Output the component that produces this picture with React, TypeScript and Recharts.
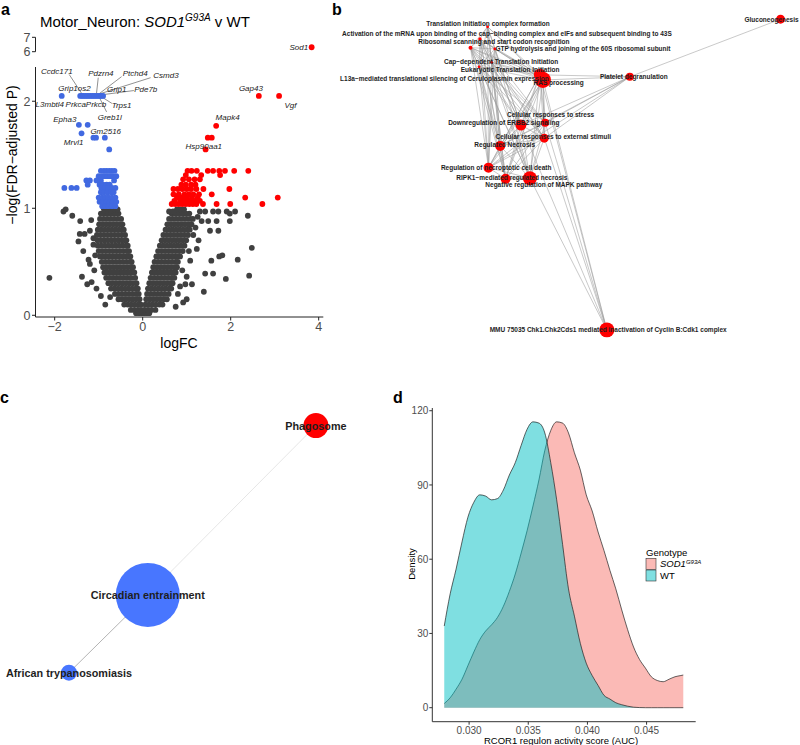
import React from "react";
import {
  Area,
  ComposedChart,
  ReferenceLine,
  Scatter,
  ScatterChart,
  XAxis,
  YAxis,
  ZAxis,
} from "recharts";

const FONT = "'Liberation Sans', Arial, Helvetica, sans-serif";

// ---------- a: volcano (logFC vs -log10 FDR) ----------
const volcanoXTicks = [-2, 0, 2, 4];
const volcanoYTicks = [0, 1, 2];
const volcanoBreakTicks = [6, 7];

// not significant genes: [-log p, logFC values on that row]
const nsRows: [number, number[]][] = [
  [0.02, [-0.15, -0.08, -0.02, 0.03, 0.09, 0.15]],
  [0.05, [-0.27, -0.19, -0.11, -0.04, 0.04, 0.12, 0.2, 0.29]],
  [0.1, [-0.42, -0.34, -0.26, -0.18, -0.1, -0.04, 0.06, 0.14, 0.22, 0.3, 0.38, 0.45]],
  [0.15, [-0.55, -0.47, -0.39, -0.31, -0.23, -0.15, -0.07, 0.08, 0.16, 0.24, 0.32, 0.4, 0.48, 0.55]],
  [0.2, [-0.63, -0.55, -0.47, -0.39, -0.31, -0.23, -0.15, -0.09, 0.1, 0.18, 0.26, 0.34, 0.42, 0.5, 0.59]],
  [0.25, [-0.72, -0.64, -0.56, -0.48, -0.4, -0.32, -0.24, -0.16, -0.11, 0.12, 0.2, 0.28, 0.36, 0.44, 0.52, 0.6, 0.65]],
  [0.3, [-0.78, -0.7, -0.62, -0.54, -0.46, -0.38, -0.3, -0.22, -0.14, 0.15, 0.23, 0.31, 0.39, 0.47, 0.55, 0.63, 0.68]],
  [0.35, [-0.83, -0.75, -0.67, -0.59, -0.51, -0.43, -0.35, -0.27, -0.17, 0.18, 0.26, 0.34, 0.42, 0.5, 0.58, 0.66, 0.72]],
  [0.4, [-0.87, -0.79, -0.71, -0.63, -0.55, -0.47, -0.39, -0.31, -0.23, -0.19, 0.21, 0.29, 0.37, 0.45, 0.53, 0.61, 0.69, 0.75]],
  [0.45, [-0.9, -0.82, -0.74, -0.66, -0.58, -0.5, -0.42, -0.34, -0.26, -0.22, 0.24, 0.32, 0.4, 0.48, 0.56, 0.64, 0.72, 0.78]],
  [0.5, [-0.93, -0.85, -0.77, -0.69, -0.61, -0.53, -0.45, -0.37, -0.29, -0.25, 0.27, 0.35, 0.43, 0.51, 0.59, 0.67, 0.75, 0.8]],
  [0.55, [-0.97, -0.89, -0.81, -0.73, -0.65, -0.57, -0.49, -0.41, -0.33, -0.28, 0.31, 0.39, 0.47, 0.55, 0.63, 0.71, 0.79, 0.85]],
  [0.6, [-1.0, -0.92, -0.84, -0.76, -0.68, -0.6, -0.52, -0.44, -0.36, -0.31, 0.35, 0.43, 0.51, 0.59, 0.67, 0.75, 0.83, 0.91]],
  [0.65, [-1.02, -0.94, -0.86, -0.78, -0.7, -0.62, -0.54, -0.46, -0.38, -0.34, 0.39, 0.47, 0.55, 0.63, 0.71, 0.79, 0.87, 0.95]],
  [0.7, [-1.03, -0.95, -0.87, -0.79, -0.71, -0.63, -0.55, -0.47, -0.4, -0.37, 0.43, 0.51, 0.59, 0.67, 0.75, 0.83, 0.91, 0.99]],
  [0.75, [-1.04, -0.96, -0.88, -0.8, -0.72, -0.64, -0.56, -0.48, -0.4, 0.47, 0.55, 0.63, 0.71, 0.79, 0.87, 0.95, 1.03]],
  [0.8, [-1.02, -0.94, -0.86, -0.78, -0.7, -0.62, -0.54, -0.46, -0.43, 0.52, 0.6, 0.68, 0.76, 0.84, 0.92, 1.0, 1.07]],
  [0.85, [-0.99, -0.91, -0.83, -0.75, -0.67, -0.59, -0.51, -0.46, 0.56, 0.64, 0.72, 0.8, 0.88, 0.96, 1.04, 1.11]],
  [0.9, [-0.97, -0.89, -0.81, -0.73, -0.65, -0.57, -0.49, 0.6, 0.68, 0.76, 0.84, 0.92, 1.0, 1.08, 1.14]],
  [0.95, [-0.95, -0.87, -0.79, -0.71, -0.63, -0.55, 0.66, 0.74, 0.82, 0.9, 0.98, 1.06]],
  [0.99, [-0.88, -0.8, -0.72, -0.64, -0.57, 0.78, 0.86, 0.94]],
];
const nsExtra: [number, number][] = [
  [-2.12, 0.35], [-1.8, 0.97], [-1.75, 0.99], [-1.6, 0.93], [-1.43, 0.76], [-1.46, 0.69],
  [-1.32, 0.76], [-1.2, 0.79], [-1.42, 0.88], [-1.17, 0.89], [-1.35, 0.6], [-1.23, 0.52],
  [-1.2, 0.48], [-1.26, 0.29], [-1.16, 0.31], [-1.38, 0.36], [-0.74, 0.17], [-1.12, 0.66],
  [-1.1, 0.42], [-1.08, 0.56], [-1.05, 0.25], [-0.95, 0.18], [-0.85, 0.1], [-1.12, 0.72],
  [0.6, 0.97], [0.69, 0.97], [1.3, 0.97], [1.42, 0.97], [1.6, 0.97], [1.72, 0.97],
  [1.91, 0.97], [1.98, 0.95], [2.1, 0.97], [2.39, 0.93], [1.34, 0.88], [1.49, 0.88],
  [1.68, 0.88], [1.98, 0.88], [1.53, 0.79], [1.72, 0.79], [1.27, 0.7], [1.23, 0.62],
  [1.74, 0.55], [1.81, 0.56], [2.16, 0.52], [2.48, 0.63], [1.08, 0.51], [1.56, 0.51],
  [1.42, 0.39], [1.6, 0.39], [1.89, 0.34], [2.42, 0.37], [0.97, 0.29], [1.12, 0.29],
  [1.39, 0.22], [0.92, 0.12], [1.2, 0.82], [1.0, 0.36], [0.9, 0.42], [1.05, 0.6],
  [0.8, 0.2], [0.85, 0.27], [1.15, 0.75], [1.25, 0.92], [1.0, 0.15], [0.75, 0.08],
];

// down-regulated (blue)
const downRows: [number, number[]][] = [
  [2.05, [-1.84, -1.42, -1.38, -1.34, -1.3, -1.26, -1.22, -1.18, -1.14, -1.1, -1.06, -1.02, -0.98, -0.94, -0.9]],
  [1.35, [-0.95, -0.88, -0.82, -0.76, -0.7, -0.64]],
  [1.3, [-1.0, -0.92, -0.86, -0.8, -0.74, -0.68, -0.6]],
  [1.26, [-1.28, -1.2, -1.05, -0.95, -0.65]],
  [1.22, [-1.25, -0.98, -0.9, -0.82, -0.75]],
  [1.19, [-1.78, -1.62, -1.5, -0.94, -0.86, -0.78, -0.7, -0.62]],
  [1.15, [-0.95, -0.88, -0.8, -0.72, -0.66]],
  [1.1, [-1.0, -0.92, -0.85, -0.78, -0.7, -0.62]],
  [1.06, [-0.98, -0.9, -0.82, -0.75, -0.68, -0.6]],
  [1.02, [-0.92, -0.85, -0.78, -0.7, -0.62]],
];
const downExtra: [number, number][] = [
  [-1.45, 1.78], [-1.25, 1.78], [-1.39, 1.7], [-1.12, 1.66], [-1.06, 1.66], [-0.86, 1.66], [-0.76, 1.55],
];

// up-regulated (red)
const upRows: [number, number[]][] = [
  [1.35, [1.02, 1.11, 1.23, 1.48, 1.6, 1.74, 1.87, 2.08, 2.4]],
  [1.31, [0.98, 1.33, 1.76]],
  [1.27, [0.92, 1.05, 1.18, 1.3]],
  [1.22, [0.88, 0.98, 1.1, 1.2]],
  [1.18, [0.7, 0.8, 0.9, 1.0, 1.1, 1.22, 1.38, 1.97]],
  [1.13, [0.7, 0.82, 0.95, 1.05, 1.15, 1.28, 1.57]],
  [1.1, [0.78, 0.88, 1.0, 1.12, 1.25, 2.33, 3.07]],
  [1.07, [0.72, 0.85, 0.96, 1.06, 1.18, 1.3]],
  [1.04, [0.66, 0.74, 0.82, 0.9, 0.98, 1.06, 1.14, 1.22, 1.37, 1.68, 1.99, 2.72]],
];
const upExtra: [number, number][] = [
  [2.64, 2.05], [3.1, 2.05], [1.67, 1.77], [1.48, 1.66], [1.57, 1.66], [1.43, 1.55],
];
const upBreak: [number, number][] = [[3.84, 6.31]];

// gene labels: [gene, label logFC, label -log p]
const geneLabels: [string, number, number][] = [
  ["Gap43", 2.46, 2.12], ["Vgf", 3.36, 1.96], ["Mapk4", 1.93, 1.85], ["Hsp90aa1", 1.39, 1.58],
  ["Ccdc171", -1.95, 2.28], ["Pdzrn4", -0.95, 2.26], ["Ptchd4", -0.17, 2.26], ["Csmd3", 0.53, 2.24],
  ["Grip1os2", -1.55, 2.12], ["Grip1", -0.59, 2.11], ["Pde7b", 0.07, 2.11], ["L3mbtl4", -2.11, 1.97],
  ["Prkca", -1.52, 1.97], ["Prkcb", -1.06, 1.97], ["Trps1", -0.48, 1.96], ["Greb1l", -0.75, 1.85],
  ["Epha3", -1.77, 1.83], ["Gm2516", -0.84, 1.72], ["Mrvl1", -1.57, 1.61],
];
const breakLabels: [string, number, number][] = [["Sod1", 3.55, 6.26]];
// label -> point segments
const labelLinks: [number, number, number, number][] = [
  [-1.67, 2.25, -1.35, 2.05], [-1.01, 2.22, -1.05, 2.07], [-0.48, 2.23, -0.99, 2.07],
  [0.18, 2.22, -0.97, 2.07], [-0.2, 2.1, -0.93, 2.06], [-0.7, 1.98, -0.93, 2.04],
  [-0.82, 1.9, -0.99, 2.04],
];

// ---------- b: Reactome network ----------
const reactomeNames = [
  "Translation initiation complex formation",
  "Activation of the mRNA upon binding of the cap−binding complex and eIFs and subsequent binding to 43S",
  "Ribosomal scanning and start codon recognition",
  "GTP hydrolysis and joining of the 60S ribosomal subunit",
  "Cap−dependent Translation Initiation",
  "Eukaryotic Translation Initiation",
  "L13a−mediated translational silencing of Ceruloplasmin expression",
  "RAS processing",
  "Platelet degranulation",
  "Gluconeogenesis",
  "Cellular responses to stress",
  "Downregulation of ERBB2 signaling",
  "Cellular responses to external stimuli",
  "Regulated Necrosis",
  "Regulation of necroptotic cell death",
  "RIPK1−mediated regulated necrosis",
  "Negative regulation of MAPK pathway",
  "MMU 75035 Chk1.Chk2Cds1 mediated inactivation of Cyclin B:Cdk1 complex",
];
const reactomeX = [32.8, 31.1, 29.0, 34.4, 33.7, 30.9, 44.4, 45.1, 64.4, 97.9, 45.6, 40.2, 45.4, 35.6, 33.0, 36.8, 42.2, 59.3];
const reactomeY = [96.3, 92.5, 89.8, 89.4, 85.2, 83.8, 81.3, 79.7, 80.7, 98.7, 66.3, 65.6, 61.5, 59.1, 52.3, 48.8, 49.0, 1.6];
const reactomeGenes = [2, 3, 4, 2, 2, 2, 36, 64, 16, 20, 16, 30, 20, 25, 25, 25, 49, 56];
const reactomeLabelX = [32.9, 37.1, 34.2, 54.0, 35.8, 37.8, 23.2, 48.6, 65.3, 95.9, 46.8, 36.4, 47.4, 36.6, 34.7, 38.2, 45.3, 59.6];
const reactomeLabelY = [97.2, 94.1, 91.8, 89.4, 85.4, 83.1, 80.3, 78.8, 80.7, 98.75, 69.0, 66.3, 62.0, 59.4, 52.5, 49.1, 46.9, 1.6];
const reactomeLinks: [number, number[]][] = [
  [0, [1, 2, 3, 4, 5, 6, 7, 11, 13, 14, 15]],
  [1, [2, 3, 4, 5, 6, 7, 10, 11, 12, 13, 14, 15, 16]],
  [2, [3, 4, 5, 6, 7, 10, 11, 12, 13, 14, 15, 16]],
  [3, [4, 5, 6, 7, 11, 13, 14, 16]],
  [4, [5, 6, 7, 10, 11, 12, 13, 14, 15, 16]],
  [5, [6, 7, 10, 11, 12, 13, 14, 15, 16]],
  [6, [7, 8, 10, 11, 12, 13, 14, 15, 16, 17]],
  [7, [8, 10, 11, 12, 13, 14, 15, 16, 17]],
  [8, [9, 10, 11, 12, 13, 14]],
  [10, [11, 12, 13, 14, 15, 16, 17]],
  [11, [12, 13, 14, 15, 16, 17]],
  [12, [13, 14, 15, 16, 17]],
  [13, [14, 15, 16]],
  [14, [15, 16]],
  [15, [16]],
  [16, [17]],
];

// ---------- c: KEGG network ----------
const keggNames = ["Phagosome", "Circadian entrainment", "African trypanosomiasis"];
const keggX = [82.2, 35.5, 13.6];
const keggY = [92.0, 39.1, 14.8];
const keggGenes = [156, 1024, 64];
const keggDirection = ["up", "down", "down"];
const keggLinks: [number, number, number][] = [
  [0, 1, 0.18],
  [1, 2, 0.55],
];

// ---------- d: RCOR1 regulon density ----------
const genotypes = ["SOD1", "WT"];
const aucGrid = [
  0.0279, 0.0284, 0.0289, 0.0294, 0.0299, 0.0304, 0.0309, 0.0314, 0.0319, 0.0324, 0.0329,
  0.0334, 0.0339, 0.0344, 0.0349, 0.0354, 0.0359, 0.0364, 0.0369, 0.0374, 0.0379, 0.0384,
  0.0389, 0.0394, 0.0399, 0.0404, 0.0409, 0.0414, 0.0419, 0.0424, 0.0429, 0.0434, 0.0439,
  0.0444, 0.0449, 0.0454, 0.0459, 0.0464, 0.0469, 0.0474, 0.0479, 0.0481,
];
const wtDensity = [
  33, 46, 56, 67, 77, 83, 86, 85.5, 84, 84.5, 88,
  94, 99, 106, 112.5, 115.5, 115, 111, 99, 84, 66, 48,
  37, 26, 18, 13, 9, 5, 3.5, 2, 1.2, 0.6, 0.2,
  0.05, 0, 0, 0, 0, 0, 0, 0, 0,
];
const sod1Density = [
  1.7, 4, 7.5, 11.5, 17, 22.5, 27.5, 31, 33.5, 36.5, 41,
  47, 54, 62.5, 71.5, 81.5, 92, 104, 112, 115.5, 115, 111,
  103, 96, 86, 79.5, 71, 63.5, 55.5, 48, 39.5, 31.5, 24.5,
  19.5, 16, 12.5, 11, 10.5, 11.5, 12.5, 13, 13.2,
];
const densityXTicks = [0.03, 0.035, 0.04, 0.045];
const densityYTicks = [0, 30, 60, 90, 120];

// ---------- helpers ----------
const rowsToPoints = (rows: [number, number[]][]) =>
  rows.flatMap(([y, xs]) => xs.map((x) => ({ x, y })));
const pairsToPoints = (pairs: [number, number][]) => pairs.map(([x, y]) => ({ x, y }));
const minus = (v: number) => String(v).replace("-", "−");

const nsPoints = [...rowsToPoints(nsRows), ...pairsToPoints(nsExtra)];
const downPoints = [...rowsToPoints(downRows), ...pairsToPoints(downExtra)];
const upPoints = [...rowsToPoints(upRows), ...pairsToPoints(upExtra)];
const breakPoints = pairsToPoints(upBreak);
const labelPoints = geneLabels.map(([gene, x, y]) => ({ gene, x, y }));
const breakLabelPoints = breakLabels.map(([gene, x, y]) => ({ gene, x, y }));

const reactomeNodes = reactomeNames.map((name, i) => ({
  name,
  x: reactomeX[i],
  y: reactomeY[i],
  genes: reactomeGenes[i],
}));
const reactomeLabels = reactomeNames.map((name, i) => ({
  name,
  x: reactomeLabelX[i],
  y: reactomeLabelY[i],
}));
const reactomeEdges = reactomeLinks.flatMap(([s, ts]) =>
  ts.map((t) => [
    { x: reactomeX[s], y: reactomeY[s] },
    { x: reactomeX[t], y: reactomeY[t] },
  ])
);

const keggNodes = keggNames.map((name, i) => ({
  name,
  x: keggX[i],
  y: keggY[i],
  genes: keggGenes[i],
  direction: keggDirection[i],
}));

const densityRows = aucGrid.map((auc, i) => ({
  auc,
  SOD1: sod1Density[i],
  WT: wtDensity[i],
}));

const genotypeFill: Record<string, string> = { SOD1: "#F8766D", WT: "#00BFC4" };

const dotShape = (fill: string) => (p: any) =>
  <circle cx={p.cx} cy={p.cy} r={2.9} fill={fill} />;

const geneText = (p: any) => (
  <text
    x={p.cx}
    y={p.cy}
    textAnchor="middle"
    dominantBaseline="central"
    fontSize={8}
    fontStyle="italic"
    fill="#222"
    fontFamily={FONT}
  >
    {p.payload.gene}
  </text>
);

const nodeText = (size: number) => (p: any) => (
  <text
    x={p.cx}
    y={p.cy}
    textAnchor="middle"
    dominantBaseline="central"
    fontSize={size}
    fontWeight="bold"
    fill="#1e1e1e"
    fontFamily={FONT}
  >
    {p.payload.name}
  </text>
);

const noShape = () => <g />;

const tickStyle = { fill: "#4d4d4d", fontSize: 12.5, fontFamily: FONT };

function VolcanoMain() {
  return (
    <ScatterChart width={340} height={360} margin={{ top: 67, right: 16.7, bottom: 0, left: 0 }}>
      <XAxis
        type="number"
        dataKey="x"
        domain={[-2.436, 4.105]}
        ticks={volcanoXTicks}
        interval={0}
        allowDataOverflow
        height={43}
        tickSize={3.5}
        tickMargin={1.5}
        stroke="#222"
        tick={tickStyle}
        tickFormatter={minus}
      />
      <YAxis
        type="number"
        dataKey="y"
        domain={[-0.016, 2.32]}
        ticks={volcanoYTicks}
        interval={0}
        allowDataOverflow
        width={35.5}
        tickSize={3.5}
        tickMargin={1.5}
        stroke="#222"
        tick={tickStyle}
      />
      <Scatter data={nsPoints} shape={dotShape("#404040")} isAnimationActive={false} />
      <Scatter data={downPoints} shape={dotShape("#4169E1")} isAnimationActive={false} />
      <Scatter data={upPoints} shape={dotShape("#FF0000")} isAnimationActive={false} />
      {labelLinks.map(([x1, y1, x2, y2], i) => (
        <ReferenceLine
          key={i}
          segment={[{ x: x1, y: y1 }, { x: x2, y: y2 }]}
          stroke="#222"
          strokeWidth={0.5}
        />
      ))}
      <Scatter data={labelPoints} shape={geneText} isAnimationActive={false} />
    </ScatterChart>
  );
}

function VolcanoBreak() {
  return (
    <ScatterChart width={340} height={60} margin={{ top: 37.3, right: 16.7, bottom: 8.3, left: 0 }}>
      <XAxis type="number" dataKey="x" domain={[-2.436, 4.105]} hide />
      <YAxis
        type="number"
        dataKey="y"
        domain={[6, 7]}
        ticks={volcanoBreakTicks}
        interval={0}
        width={35.5}
        tickSize={3.5}
        tickMargin={1.5}
        stroke="#222"
        tick={tickStyle}
      />
      <Scatter data={breakPoints} shape={dotShape("#FF0000")} isAnimationActive={false} />
      <Scatter data={breakLabelPoints} shape={geneText} isAnimationActive={false} />
    </ScatterChart>
  );
}

function ReactomeNetwork() {
  return (
    <ScatterChart width={470} height={345} margin={{ top: 15, right: 10, bottom: 10, left: 10 }}>
      <XAxis type="number" dataKey="x" domain={[0, 100]} hide />
      <YAxis type="number" dataKey="y" domain={[0, 100]} hide />
      <ZAxis type="number" dataKey="genes" domain={[0, 64]} range={[0, 201]} />
      {reactomeEdges.map((edge, i) => (
        <Scatter
          key={i}
          data={edge}
          fill="#999"
          line={{ stroke: "#9c9c9c", strokeWidth: 0.55 }}
          shape={noShape}
          isAnimationActive={false}
        />
      ))}
      <Scatter data={reactomeNodes} fill="#FF0000" shape="circle" isAnimationActive={false} />
      <Scatter data={reactomeLabels} shape={nodeText(6.5)} isAnimationActive={false} />
    </ScatterChart>
  );
}

function KeggNetwork() {
  return (
    <ScatterChart width={390} height={365} margin={{ top: 20, right: 10, bottom: 25, left: 20 }}>
      <XAxis type="number" dataKey="x" domain={[0, 100]} hide />
      <YAxis type="number" dataKey="y" domain={[0, 100]} hide />
      <ZAxis type="number" dataKey="genes" domain={[0, 1024]} range={[0, 3217]} />
      {keggLinks.map(([s, t, w], i) => (
        <Scatter
          key={i}
          data={[
            { x: keggX[s], y: keggY[s] },
            { x: keggX[t], y: keggY[t] },
          ]}
          fill="#777"
          line={{ stroke: "#777", strokeOpacity: w, strokeWidth: 1 }}
          shape={noShape}
          isAnimationActive={false}
        />
      ))}
      <Scatter
        data={keggNodes.filter((n) => n.direction === "up")}
        fill="#FF0000"
        shape="circle"
        isAnimationActive={false}
      />
      <Scatter
        data={keggNodes.filter((n) => n.direction === "down")}
        fill="#4876FF"
        shape="circle"
        isAnimationActive={false}
      />
      <Scatter data={keggNodes} shape={nodeText(10.8)} isAnimationActive={false} />
    </ScatterChart>
  );
}

function DensityPanel() {
  const dTick = { fill: "#4d4d4d", fontSize: 10, fontFamily: FONT };
  return (
    <ComposedChart
      width={420}
      height={365}
      data={densityRows}
      margin={{ top: 28, right: 104.3, bottom: 0, left: 0 }}
    >
      <XAxis
        type="number"
        dataKey="auc"
        domain={[0.02689, 0.04915]}
        ticks={densityXTicks}
        interval={0}
        allowDataOverflow
        height={23.3}
        tickSize={3}
        tickMargin={2}
        stroke="#333"
        tick={dTick}
        tickFormatter={(v: number) => v.toFixed(3)}
      />
      <YAxis
        type="number"
        domain={[-5.66, 121.1]}
        ticks={densityYTicks}
        interval={0}
        allowDataOverflow
        width={52.3}
        tickSize={3}
        tickMargin={1}
        stroke="#333"
        tick={dTick}
      />
      {genotypes.map((g) => (
        <Area
          key={g}
          dataKey={g}
          type="monotone"
          baseValue={0}
          fill={genotypeFill[g]}
          fillOpacity={0.5}
          stroke="#222"
          strokeWidth={0.7}
          isAnimationActive={false}
        />
      ))}
    </ComposedChart>
  );
}

function Overlay() {
  return (
    <svg
      width={800}
      height={745}
      style={{ position: "absolute", left: 0, top: 0, pointerEvents: "none" }}
      fontFamily={FONT}
    >
      <text x={1} y={15} fontSize={16} fontWeight="bold">a</text>
      <text x={332} y={15} fontSize={16} fontWeight="bold">b</text>
      <text x={0} y={403} fontSize={16} fontWeight="bold">c</text>
      <text x={393} y={403} fontSize={16} fontWeight="bold">d</text>

      <text x={40} y={27} fontSize={15} fill="#000">
        Motor_Neuron: <tspan fontStyle="italic">SOD1</tspan>
        <tspan fontStyle="italic" fontSize={10} dy={-6}>G93A</tspan>
        <tspan dy={6}> v WT</tspan>
      </text>
      <text x={179} y={348} fontSize={14} textAnchor="middle">logFC</text>
      <text x={16.5} y={155} fontSize={14} textAnchor="middle" transform="rotate(-90 16.5 155)">
        −log(FDR−adjusted P)
      </text>

      <text x={561} y={743.5} fontSize={9.5} textAnchor="middle">RCOR1 regulon activity score (AUC)</text>
      <text x={415} y={564} fontSize={9.5} textAnchor="middle" transform="rotate(-90 415 564)">Density</text>

      <text x={646} y={555.5} fontSize={9.5}>Genotype</text>
      {genotypes.map((g, i) => (
        <g key={g}>
          <rect
            x={646}
            y={558.3 + i * 11.7}
            width={10}
            height={11}
            fill={genotypeFill[g]}
            fillOpacity={0.5}
            stroke="#333"
            strokeWidth={0.6}
          />
          {g === "SOD1" ? (
            <text x={660} y={567 + i * 11.7} fontSize={9.5}>
              <tspan fontStyle="italic">SOD1</tspan>
              <tspan fontStyle="italic" fontSize={6} dy={-3.5}>G93A</tspan>
            </text>
          ) : (
            <text x={660} y={567 + i * 11.7} fontSize={9.5}>{g}</text>
          )}
        </g>
      ))}
    </svg>
  );
}

export default function App() {
  return (
    <div
      style={{
        position: "absolute",
        left: 0,
        top: 0,
        width: 800,
        height: 745,
        overflow: "hidden",
        background: "#fff",
        fontFamily: FONT,
      }}
    >
      <div style={{ position: "absolute", left: 0, top: 0 }}>
        <VolcanoMain />
      </div>
      <div style={{ position: "absolute", left: 0, top: 0 }}>
        <VolcanoBreak />
      </div>
      <div style={{ position: "absolute", left: 330, top: 0 }}>
        <ReactomeNetwork />
      </div>
      <div style={{ position: "absolute", left: 0, top: 380 }}>
        <KeggNetwork />
      </div>
      <div style={{ position: "absolute", left: 380, top: 380 }}>
        <DensityPanel />
      </div>
      <Overlay />
    </div>
  );
}
